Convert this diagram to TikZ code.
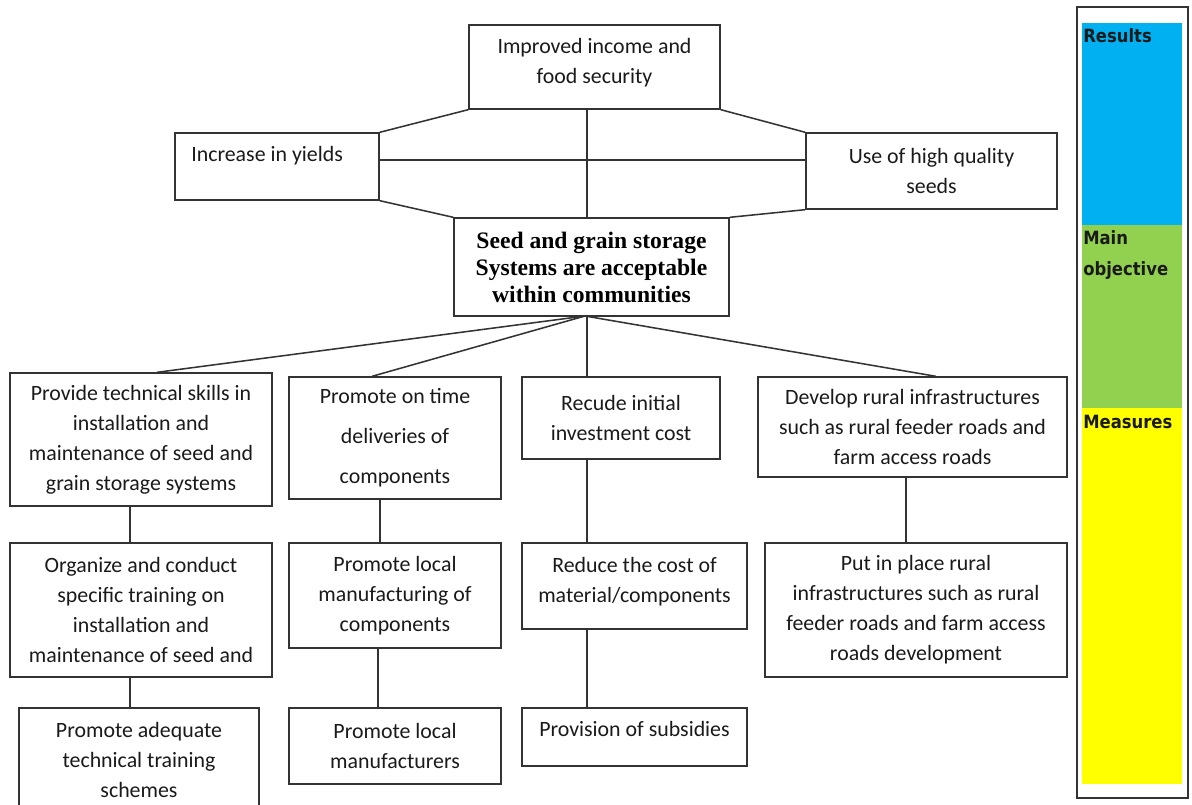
\documentclass[tikz,border=0pt]{standalone}
\usepackage{fontspec}
\setmainfont{Carlito}
\newfontfamily\serifbf{Liberation Serif}
\newfontfamily\barfont{DejaVu Sans}[FakeStretch=0.9]

\definecolor{resultsblue}{HTML}{00B0F0}
\definecolor{objgreen}{HTML}{92D050}
\definecolor{measyellow}{HTML}{FFFF00}
\definecolor{edge}{HTML}{333333}
\definecolor{ink}{HTML}{1A1A1A}

\begin{document}
\begin{tikzpicture}[x=0.75pt,y=-0.75pt,
  box/.style={draw=edge, line width=1pt, rectangle, inner sep=0pt,
    align=center, text=ink, font=\fontsize{16.4pt}{22.5pt}\selectfont},
  boxtext/.style={inner sep=0pt, text=ink, font=\fontsize{16.4pt}{22.5pt}\selectfont},
  goalbox/.style={box, text=black,
    font=\serifbf\bfseries\fontsize{17.7pt}{20.25pt}\selectfont},
  link/.style={draw=edge, line width=1.15pt},
  band/.style={rectangle, inner sep=0pt, minimum width=75pt},
  barlabel/.style={inner sep=0pt, text=ink,
    font=\barfont\bfseries\fontsize{13.7pt}{23.25pt}\selectfont}
]
\useasboundingbox (0,0) rectangle (1192,805);

% ---- legend column on the right ----
\node[band, fill=resultsblue, minimum height=151.5pt] (bres) at (1132,124) {};
\node[band, fill=objgreen, minimum height=137.25pt] (bobj) at (1132,316.5) {};
\node[band, fill=measyellow, minimum height=282pt] (bmeas) at (1132,596) {};
\node[draw=edge, line width=0.9pt, rectangle, inner sep=0pt,
      minimum width=83.25pt, minimum height=593.25pt] (legend) at (1132.5,402.5) {};
\node[barlabel, anchor=base west] (lres) at (1083,42.7) {Results};
\node[barlabel, anchor=base west] (lmain) at (1083,245) {Main};
\node[barlabel, anchor=base west] (lobj) at (1083,276) {objective};
\node[barlabel, anchor=base west] (lmeas) at (1083,428) {Measures};

% ---- results ----
\node[box, minimum width=188.25pt, minimum height=63pt] (top) at (594.5,67) {};
\node[boxtext, align=center, anchor=center] (toptext) at (594.5,63)
  {Improved income and\\food security};
\node[box, minimum width=153pt, minimum height=50.25pt] (yields) at (277,166.5) {};
\node[boxtext, anchor=base west] (yieldstext) at (191,161.7) {Increase in yields};
\node[box, minimum width=188.25pt, minimum height=57pt] (seeds) at (931.5,171)
  {Use of high quality\\seeds};

% ---- main objective ----
\node[goalbox, minimum width=206.25pt, minimum height=73.5pt] (goal) at (591.5,267)
  {Seed and grain storage\\Systems are acceptable\\within communities};

% ---- measures ----
\node[box, minimum width=196.5pt, minimum height=99.75pt] (a1) at (141,439.5)
  {Provide technical skills in\\installation and\\maintenance of seed and\\grain storage systems};
\node[box, minimum width=196.5pt, minimum height=100.5pt] (a2) at (141,610)
  {Organize and conduct\\specific training on\\installation and\\maintenance of seed and};
\node[box, minimum width=180pt, minimum height=78pt] (a3) at (139,760)
  {Promote adequate\\technical training\\schemes};

\node[box, minimum width=159pt, minimum height=91.5pt,
      font=\fontsize{16.4pt}{30pt}\selectfont] (b1) at (395,438)
  {Promote on time\\deliveries of\\components};
\node[box, minimum width=159pt, minimum height=78.75pt] (b2) at (395,595.5)
  {Promote local\\manufacturing of\\components};
\node[box, minimum width=159pt, minimum height=57pt] (b3) at (395,746)
  {Promote local\\manufacturers};

\node[box, minimum width=148.5pt, minimum height=61.5pt] (c1) at (621,418)
  {Recude initial\\investment cost};
\node[box, minimum width=168.75pt, minimum height=64.5pt] (c2) at (634.5,586) {};
\node[boxtext, align=center] (c2text) at (634.5,582)
  {Reduce the cost of\\material/components};
\node[box, minimum width=168.75pt, minimum height=43.5pt] (c3) at (634.5,737) {};
\node[boxtext, anchor=base] (c3text) at (634.5,736.7) {Provision of subsidies};

\node[box, minimum width=231.75pt, minimum height=75pt] (d1) at (912.5,427)
  {Develop rural infrastructures\\such as rural feeder roads and\\farm access roads};
\node[box, minimum width=226.5pt, minimum height=100.5pt] (d2) at (916,610)
  {Put in place rural\\infrastructures such as rural\\feeder roads and farm access\\roads development};

% ---- connectors ----
\coordinate (hub) at (585,316);
\coordinate (spine) at (587,316);
\coordinate (cross) at (587,160);

\draw[link] (top.south west) -- (yields.north east);
\draw[link] (top.south east) -- (seeds.north west);
\draw[link] (yields.south east) -- (goal.north west);
\draw[link] (seeds.south west) -- (goal.north east);
\draw[link] (yields.east |- cross) -- (seeds.west |- cross);
\draw[link] (top.south -| spine) -- (goal.north -| spine);

\draw[link] (hub) -- ([xshift=12pt]a1.north);
\draw[link] (hub) -- ([xshift=-17.25pt]b1.north);
\draw[link] (goal.south -| spine) -- (c1.north -| spine);
\draw[link] (hub) -- ([xshift=17.6pt]d1.north);

\draw[link] ([xshift=-8.25pt]a1.south) -- ([xshift=-8.25pt]a2.north);
\draw[link] ([xshift=-8.25pt]a2.south) -- ([xshift=-6.75pt]a3.north);
\draw[link] ([xshift=-11.25pt]b1.south) -- ([xshift=-11.25pt]b2.north);
\draw[link] ([xshift=-12.75pt]b2.south) -- ([xshift=-12.75pt]b3.north);
\draw[link] (c1.south -| spine) -- (c2.north -| spine);
\draw[link] (c2.south -| spine) -- (c3.north -| spine);
\draw[link] ([xshift=-4.875pt]d1.south) -- ([xshift=-7.5pt]d2.north);
\end{tikzpicture}
\end{document}
